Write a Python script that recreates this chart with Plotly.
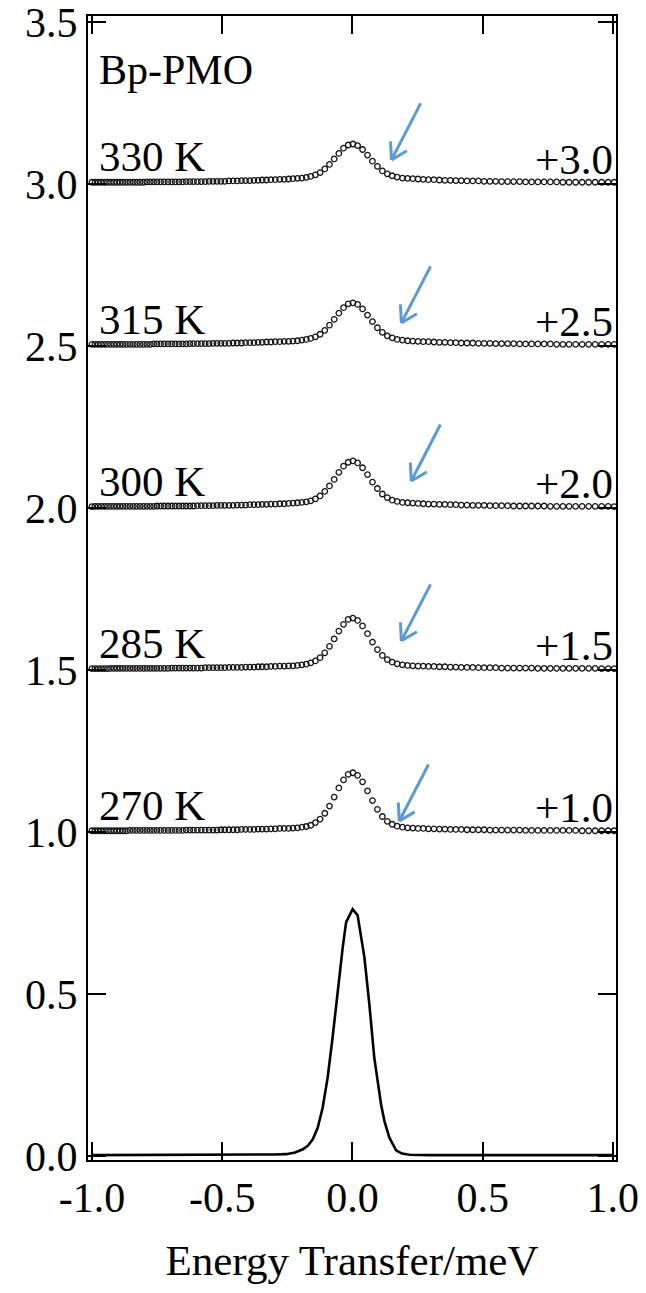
import plotly.graph_objects as go

# Energy grid of the QENS spectra (meV); bins widen towards the energy-gain side
energy = [
    -1.000, -0.988, -0.976, -0.964, -0.952, -0.940, -0.928, -0.916, -0.904, -0.892, -0.880,
    -0.867, -0.854, -0.841, -0.828, -0.815, -0.802, -0.789, -0.776, -0.763, -0.750,
    -0.736, -0.722, -0.708, -0.694, -0.680, -0.666, -0.652, -0.638, -0.624, -0.610,
    -0.595, -0.580, -0.565, -0.550, -0.535, -0.520, -0.505, -0.490,
    -0.474, -0.458, -0.442, -0.426, -0.410, -0.394, -0.378, -0.362, -0.346, -0.330,
    -0.313, -0.296, -0.279, -0.262, -0.245, -0.228, -0.211, -0.194, -0.177, -0.160,
    -0.142, -0.124, -0.106, -0.088, -0.070, -0.052, -0.034, -0.016, 0.002, 0.020,
    0.039, 0.058, 0.077, 0.096, 0.115, 0.134, 0.153, 0.172,
    0.192, 0.212, 0.232, 0.252, 0.272, 0.292,
    0.313, 0.334, 0.355, 0.376, 0.397, 0.418,
    0.440, 0.462, 0.484, 0.506, 0.528, 0.550,
    0.573, 0.596, 0.619, 0.642, 0.665, 0.688,
    0.712, 0.736, 0.760, 0.784, 0.808, 0.832,
    0.857, 0.882, 0.907, 0.932, 0.957, 0.982, 1.005,
]

# Normalised intensities (before vertical offset)
i_270 = [
    0.004, 0.004, 0.004, 0.004, 0.004, 0.004, 0.004, 0.004, 0.004, 0.004, 0.004,
    0.004, 0.005, 0.005, 0.005, 0.005, 0.005, 0.005, 0.005, 0.005, 0.005,
    0.005, 0.005, 0.005, 0.005, 0.005, 0.005, 0.005, 0.006, 0.006, 0.006,
    0.006, 0.006, 0.006, 0.006, 0.006, 0.006, 0.007, 0.007,
    0.007, 0.007, 0.007, 0.008, 0.008, 0.008, 0.008, 0.009, 0.009, 0.009,
    0.010, 0.010, 0.011, 0.011, 0.011, 0.012, 0.013, 0.015, 0.017, 0.021,
    0.029, 0.040, 0.058, 0.080, 0.108, 0.136, 0.161, 0.178, 0.183, 0.175,
    0.155, 0.127, 0.097, 0.070, 0.048, 0.033, 0.024, 0.018,
    0.015, 0.013, 0.012, 0.011, 0.011, 0.010,
    0.010, 0.009, 0.009, 0.008, 0.008, 0.008,
    0.007, 0.007, 0.007, 0.007, 0.006, 0.006,
    0.006, 0.006, 0.006, 0.006, 0.005, 0.005,
    0.005, 0.005, 0.005, 0.005, 0.005, 0.005,
    0.005, 0.004, 0.004, 0.004, 0.004, 0.004, 0.004,
]
i_285 = [
    0.004, 0.004, 0.004, 0.004, 0.004, 0.004, 0.005, 0.005, 0.005, 0.005, 0.005,
    0.005, 0.005, 0.005, 0.005, 0.005, 0.005, 0.005, 0.005, 0.005, 0.005,
    0.005, 0.005, 0.005, 0.006, 0.006, 0.006, 0.006, 0.006, 0.006, 0.006,
    0.006, 0.006, 0.007, 0.007, 0.007, 0.007, 0.007, 0.007,
    0.008, 0.008, 0.008, 0.008, 0.009, 0.009, 0.009, 0.010, 0.010, 0.010,
    0.011, 0.011, 0.012, 0.012, 0.013, 0.013, 0.014, 0.016, 0.018, 0.022,
    0.028, 0.038, 0.053, 0.073, 0.096, 0.120, 0.141, 0.156, 0.160, 0.153,
    0.136, 0.112, 0.086, 0.063, 0.045, 0.032, 0.024, 0.019,
    0.016, 0.014, 0.013, 0.012, 0.012, 0.011,
    0.011, 0.010, 0.010, 0.009, 0.009, 0.008,
    0.008, 0.008, 0.007, 0.007, 0.007, 0.007,
    0.006, 0.006, 0.006, 0.006, 0.006, 0.006,
    0.005, 0.005, 0.005, 0.005, 0.005, 0.005,
    0.005, 0.005, 0.005, 0.005, 0.004, 0.004, 0.004,
]
i_300 = [
    0.004, 0.005, 0.005, 0.005, 0.005, 0.005, 0.005, 0.005, 0.005, 0.005, 0.005,
    0.005, 0.005, 0.005, 0.005, 0.005, 0.005, 0.005, 0.005, 0.005, 0.006,
    0.006, 0.006, 0.006, 0.006, 0.006, 0.006, 0.006, 0.006, 0.006, 0.006,
    0.007, 0.007, 0.007, 0.007, 0.007, 0.008, 0.008, 0.008,
    0.008, 0.008, 0.009, 0.009, 0.009, 0.010, 0.010, 0.010, 0.011, 0.011,
    0.012, 0.012, 0.013, 0.013, 0.014, 0.015, 0.016, 0.017, 0.019, 0.022,
    0.028, 0.037, 0.051, 0.068, 0.088, 0.110, 0.129, 0.141, 0.145, 0.139,
    0.124, 0.103, 0.080, 0.060, 0.043, 0.032, 0.024, 0.020,
    0.017, 0.016, 0.015, 0.014, 0.013, 0.012,
    0.012, 0.011, 0.011, 0.010, 0.010, 0.009,
    0.009, 0.008, 0.008, 0.008, 0.007, 0.007,
    0.007, 0.007, 0.006, 0.006, 0.006, 0.006,
    0.006, 0.006, 0.005, 0.005, 0.005, 0.005,
    0.005, 0.005, 0.005, 0.005, 0.005, 0.005, 0.004,
]
i_315 = [
    0.005, 0.005, 0.005, 0.005, 0.005, 0.005, 0.005, 0.005, 0.005, 0.005, 0.005,
    0.005, 0.005, 0.005, 0.005, 0.005, 0.005, 0.005, 0.005, 0.006, 0.006,
    0.006, 0.006, 0.006, 0.006, 0.006, 0.006, 0.006, 0.006, 0.007, 0.007,
    0.007, 0.007, 0.007, 0.007, 0.008, 0.008, 0.008, 0.008,
    0.008, 0.009, 0.009, 0.009, 0.010, 0.010, 0.010, 0.011, 0.011, 0.012,
    0.012, 0.013, 0.013, 0.014, 0.014, 0.015, 0.016, 0.018, 0.020, 0.023,
    0.028, 0.036, 0.048, 0.064, 0.082, 0.101, 0.118, 0.130, 0.133, 0.128,
    0.114, 0.095, 0.075, 0.056, 0.042, 0.031, 0.025, 0.020,
    0.018, 0.016, 0.015, 0.014, 0.013, 0.013,
    0.012, 0.011, 0.011, 0.010, 0.010, 0.009,
    0.009, 0.009, 0.008, 0.008, 0.008, 0.007,
    0.007, 0.007, 0.007, 0.006, 0.006, 0.006,
    0.006, 0.006, 0.006, 0.005, 0.005, 0.005,
    0.005, 0.005, 0.005, 0.005, 0.005, 0.005, 0.005,
]
i_330 = [
    0.005, 0.005, 0.005, 0.005, 0.005, 0.005, 0.005, 0.005, 0.005, 0.005, 0.005,
    0.005, 0.005, 0.005, 0.005, 0.005, 0.005, 0.006, 0.006, 0.006, 0.006,
    0.006, 0.006, 0.006, 0.006, 0.006, 0.006, 0.006, 0.007, 0.007, 0.007,
    0.007, 0.007, 0.007, 0.008, 0.008, 0.008, 0.008, 0.008,
    0.009, 0.009, 0.009, 0.010, 0.010, 0.010, 0.011, 0.011, 0.012, 0.012,
    0.013, 0.013, 0.014, 0.014, 0.015, 0.016, 0.017, 0.018, 0.020, 0.023,
    0.028, 0.035, 0.046, 0.060, 0.077, 0.094, 0.110, 0.120, 0.123, 0.118,
    0.106, 0.089, 0.070, 0.054, 0.040, 0.031, 0.025, 0.021,
    0.018, 0.017, 0.016, 0.015, 0.014, 0.013,
    0.013, 0.012, 0.011, 0.011, 0.010, 0.010,
    0.009, 0.009, 0.009, 0.008, 0.008, 0.008,
    0.007, 0.007, 0.007, 0.007, 0.006, 0.006,
    0.006, 0.006, 0.006, 0.006, 0.005, 0.005,
    0.005, 0.005, 0.005, 0.005, 0.005, 0.005, 0.005,
]

# Instrumental resolution function (unshifted)
res_energy = [
    -1.000, -0.800, -0.600, -0.450, -0.350, -0.300, -0.255, -0.220, -0.190, -0.170,
    -0.152, -0.133, -0.114, -0.095, -0.076, -0.056, -0.037, -0.024, 0.001, 0.020,
    0.046, 0.065, 0.084, 0.110, 0.123, 0.142, 0.168, 0.190, 0.220, 0.300,
    0.450, 0.600, 0.800, 1.000,
]
res_intensity = [
    0.003, 0.003, 0.004, 0.004, 0.004, 0.005, 0.006, 0.011, 0.021, 0.033,
    0.052, 0.088, 0.150, 0.242, 0.366, 0.511, 0.645, 0.722, 0.762, 0.743,
    0.614, 0.470, 0.304, 0.160, 0.108, 0.057, 0.018, 0.008, 0.004, 0.003,
    0.003, 0.003, 0.003, 0.003,
]

temperatures = ["270 K", "285 K", "300 K", "315 K", "330 K"]
offsets = [1.0, 1.5, 2.0, 2.5, 3.0]
offset_labels = ["+1.0", "+1.5", "+2.0", "+2.5", "+3.0"]
spectra = [i_270, i_285, i_300, i_315, i_330]

x_tickvals = [-1.0, -0.5, 0.0, 0.5, 1.0]
x_ticktext = ["-1.0", "-0.5", "0.0", "0.5", "1.0"]
y_tickvals = [0.0, 0.5, 1.0, 1.5, 2.0, 2.5, 3.0, 3.5]
y_ticktext = ["0.0", "0.5", "1.0", "1.5", "2.0", "2.5", "3.0", "3.5"]

# Arrow tips marking the quasi-elastic wing of each spectrum (energy, height above offset)
arrow_tip_energy = [0.180, 0.188, 0.226, 0.188, 0.150]
arrow_tip_height = [0.034, 0.090, 0.083, 0.071, 0.074]

FONT = "Liberation Serif, Times New Roman, serif"
ARROW_BLUE = "#5B9BD5"
LABEL_SIZE = 43

fig = go.Figure()

fig.add_trace(go.Scatter(
    x=res_energy, y=res_intensity, mode="lines",
    line=dict(color="black", width=2.6), showlegend=False, hoverinfo="skip",
))

for vals, off in zip(spectra, offsets):
    fig.add_trace(go.Scatter(
        x=energy, y=[v + off for v in vals], mode="markers",
        marker=dict(symbol="circle-open", size=5.5, color="#151515",
                    line=dict(width=1.3, color="#151515")),
        showlegend=False, hoverinfo="skip",
    ))

annotations = []
for label, off_label, off in zip(temperatures, offset_labels, offsets):
    annotations.append(dict(
        x=-0.98, y=off + 0.083, xref="x", yref="y", text=label, showarrow=False,
        xanchor="left", yanchor="middle",
        font=dict(family=FONT, size=LABEL_SIZE, color="black"),
    ))
    annotations.append(dict(
        x=1.007, y=off + 0.075, xref="x", yref="y", text=off_label, showarrow=False,
        xanchor="right", yanchor="middle",
        font=dict(family=FONT, size=LABEL_SIZE, color="black"),
    ))

annotations.append(dict(
    x=-0.98, y=3.352, xref="x", yref="y", text="Bp-PMO", showarrow=False,
    xanchor="left", yanchor="middle",
    font=dict(family=FONT, size=LABEL_SIZE - 1, color="black"),
))

# Each arrow: shaft plus two barbs, all drawn back from the tip (pixel offsets)
arrow_parts = [(30, -58), (-1, -20), (17, -10)]
for e, h, off in zip(arrow_tip_energy, arrow_tip_height, offsets):
    for ax, ay in arrow_parts:
        annotations.append(dict(
            x=e, y=off + h, xref="x", yref="y", ax=ax, ay=ay, text="",
            showarrow=True, arrowhead=0, arrowwidth=3, arrowcolor=ARROW_BLUE,
            standoff=0, startstandoff=0,
        ))

axis_common = dict(
    showline=True, linecolor="black", linewidth=2, mirror="ticks",
    ticks="inside", ticklen=18, tickwidth=2, tickcolor="black",
    showgrid=False, zeroline=False, ticklabeloverflow="allow", automargin=False,
    tickfont=dict(family=FONT, size=42, color="black"),
)

fig.update_layout(
    width=646, height=1293,
    margin=dict(l=88, r=30, t=16, b=133, autoexpand=False),
    paper_bgcolor="white", plot_bgcolor="white",
    xaxis=dict(range=[-1.015, 1.012], tickvals=x_tickvals, ticktext=x_ticktext,
               title=dict(text="Energy Transfer/meV", standoff=24,
                          font=dict(family=FONT, size=43, color="black")),
               **axis_common),
    yaxis=dict(range=[-0.012, 3.518], tickvals=y_tickvals, ticktext=y_ticktext,
               **axis_common),
    annotations=annotations,
)

fig.write_html("out.html")
